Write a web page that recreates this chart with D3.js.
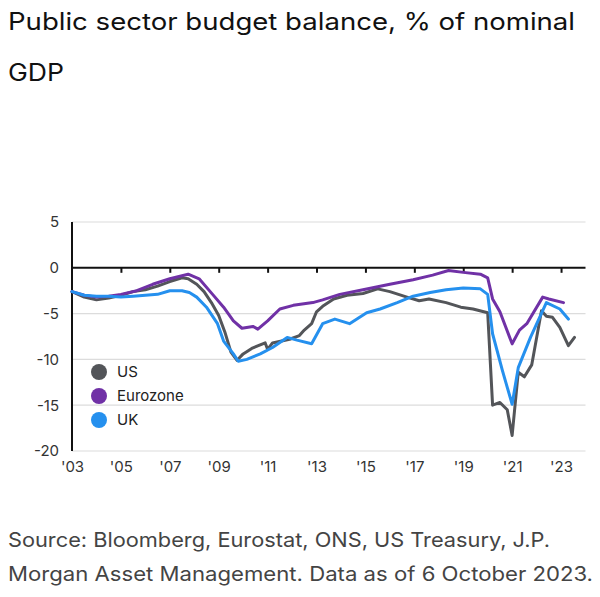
<!DOCTYPE html>
<html>
<head>
<meta charset="utf-8">
<script src="https://cdn.jsdelivr.net/npm/d3@7"></script>
<style>
  html, body { margin: 0; padding: 0; background: #fff; }
  svg { display: block; }
</style>
</head>
<body>
<svg id="chart" width="600" height="597"></svg>
<script>
// ---- Data ----
const seriesNames = ["US", "Eurozone", "UK"];
const seriesColors = ["#535559", "#7031a6", "#2590ee"];

const usDates = [2003.0,2003.5,2004.0,2004.5,2005.0,2005.5,2006.0,2006.5,2007.0,2007.5,2007.75,2008.1,2008.4,2008.7,2009.0,2009.25,2009.5,2009.75,2010.0,2010.35,2010.9,2011.0,2011.2,2011.9,2012.3,2012.5,2012.8,2013.0,2013.25,2013.7,2014.25,2014.9,2015.5,2016.0,2016.7,2017.2,2017.6,2018.3,2018.9,2019.4,2020.0,2020.2,2020.5,2020.8,2021.0,2021.25,2021.5,2021.8,2022.2,2022.4,2022.65,2022.95,2023.3,2023.55];
const usValues = [-2.6,-3.2,-3.5,-3.3,-3.0,-2.6,-2.4,-2.0,-1.5,-1.1,-1.2,-1.8,-2.6,-3.8,-5.2,-7.0,-9.2,-10.1,-9.4,-8.8,-8.2,-8.9,-8.2,-7.8,-7.4,-6.8,-6.1,-4.8,-4.2,-3.4,-3.0,-2.8,-2.3,-2.6,-3.2,-3.6,-3.4,-3.8,-4.3,-4.5,-4.9,-15.0,-14.7,-15.5,-18.3,-11.4,-11.9,-10.6,-4.7,-5.3,-5.4,-6.5,-8.5,-7.6];

const ezDates = [2003.0,2003.5,2004.0,2004.5,2005.0,2005.65,2006.3,2007.0,2007.75,2008.2,2008.75,2009.2,2009.6,2009.95,2010.4,2010.6,2011.0,2011.5,2012.05,2012.85,2013.25,2013.95,2014.9,2016.0,2016.95,2017.75,2018.4,2019.0,2019.7,2020.0,2020.2,2020.5,2021.0,2021.3,2021.6,2022.25,2022.5,2023.1];
const ezValues = [-2.6,-3.0,-3.2,-3.1,-2.9,-2.5,-1.8,-1.2,-0.7,-1.2,-2.9,-4.3,-5.8,-6.6,-6.4,-6.7,-5.8,-4.5,-4.1,-3.8,-3.5,-2.9,-2.4,-1.8,-1.3,-0.8,-0.3,-0.5,-0.7,-1.1,-3.4,-4.8,-8.3,-6.8,-6.1,-3.2,-3.4,-3.8];

const ukDates = [2003.0,2003.5,2004.0,2004.5,2005.0,2005.5,2006.0,2006.5,2007.0,2007.5,2007.8,2008.1,2008.5,2008.95,2009.2,2009.6,2009.8,2010.15,2010.7,2011.2,2011.8,2012.2,2012.8,2013.25,2013.75,2014.35,2015.05,2015.6,2016.3,2016.95,2017.65,2018.3,2019.0,2019.7,2020.0,2020.2,2020.6,2021.0,2021.25,2021.75,2022.4,2022.95,2023.3];
const ukValues = [-2.6,-3.0,-3.1,-3.1,-3.2,-3.1,-3.0,-2.9,-2.5,-2.5,-2.7,-3.2,-4.3,-6.1,-8.0,-9.4,-10.2,-10.0,-9.4,-8.7,-7.6,-7.9,-8.3,-6.1,-5.6,-6.1,-4.9,-4.5,-3.8,-3.1,-2.7,-2.4,-2.2,-2.3,-2.9,-7.2,-11.2,-14.9,-10.9,-7.6,-3.8,-4.5,-5.6];

const yTicks = [5, 0, -5, -10, -15, -20];
const xTickYears = [2003,2005,2007,2009,2011,2013,2015,2017,2019,2021,2023];
const xTickLabels = ["'03","'05","'07","'09","'11","'13","'15","'17","'19","'21","'23"];

const titleLines = ["Public sector budget balance, % of nominal", "GDP"];
const sourceLines = ["Source: Bloomberg, Eurostat, ONS, US Treasury, J.P.", "Morgan Asset Management. Data as of 6 October 2023."];

// ---- Drawing ----
const FONT = "Inter, 'Noto Sans', sans-serif";
const svg = d3.select("#chart");

const x = d3.scaleLinear().domain([2003, 2024]).range([72, 585.5]);
const y = d3.scaleLinear().domain([-20, 5]).range([451, 222]);

// title
const titleWidths = [567, 56];
svg.selectAll("text.title").data(titleLines).enter().append("text")
  .attr("class", "title")
  .attr("x", 8).attr("y", (d, i) => 29.5 + i * 51)
  .attr("font-family", FONT).attr("font-size", 24)
  .attr("fill", "#111")
  .attr("textLength", (d, i) => titleWidths[i])
  .attr("lengthAdjust", "spacingAndGlyphs")
  .text(d => d);

// gridlines
svg.append("g").selectAll("line").data(yTicks.filter(v => v !== 0)).enter().append("line")
  .attr("x1", x(2003)).attr("x2", x(2024))
  .attr("y1", d => y(d)).attr("y2", d => y(d))
  .attr("stroke", "#dcdcdc").attr("stroke-width", 1.2);

// y axis labels
const yAxis = d3.axisLeft(y).tickValues(yTicks).tickSize(0).tickPadding(13).tickFormat(d3.format("d"));
const gy = svg.append("g").attr("transform", `translate(${x(2003)},0)`).call(yAxis);
gy.select(".domain").remove();
gy.selectAll("text").attr("font-family", FONT).attr("font-size", 15).attr("fill", "#333")
  .text(d => d < 0 ? "-" + Math.abs(d) : d);

// y axis line
svg.append("line")
  .attr("x1", x(2003)).attr("x2", x(2003))
  .attr("y1", y(5)).attr("y2", y(-20))
  .attr("stroke", "#111").attr("stroke-width", 2);

// zero line with ticks
const xAxis = d3.axisBottom(x).tickValues(xTickYears.slice(1)).tickSize(5).tickFormat("");
const gx = svg.append("g").attr("transform", `translate(0,${y(0)})`).call(xAxis);
gx.select(".domain").attr("stroke", "#111").attr("stroke-width", 2).attr("d", `M${x(2003)},0H${x(2024)}`);
gx.selectAll(".tick line").attr("stroke", "#111").attr("stroke-width", 2);

// x labels at bottom
const xLab = d3.axisBottom(x).tickValues(xTickYears).tickSize(0).tickPadding(10)
  .tickFormat((d, i) => xTickLabels[i]);
const gxl = svg.append("g").attr("transform", `translate(0,${y(-20)})`).call(xLab);
gxl.select(".domain").remove();
gxl.selectAll("text").attr("font-family", FONT).attr("font-size", 15).attr("fill", "#333");

// lines
const line = d3.line().x(d => x(d[0])).y(d => y(d[1])).curve(d3.curveLinear);
const series = [
  d3.zip(usDates, usValues),
  d3.zip(ezDates, ezValues),
  d3.zip(ukDates, ukValues)
];
svg.append("g").selectAll("path").data(series).enter().append("path")
  .attr("d", line)
  .attr("fill", "none")
  .attr("stroke", (d, i) => seriesColors[i])
  .attr("stroke-width", 3)
  .attr("stroke-linejoin", "round")
  .attr("stroke-linecap", "round");

// legend
const lg = svg.append("g");
seriesNames.forEach((name, i) => {
  lg.append("circle").attr("cx", 99).attr("cy", 372 + i * 24).attr("r", 8).attr("fill", seriesColors[i]);
  lg.append("text").attr("x", 117).attr("y", 372 + i * 24).attr("dy", "0.35em")
    .attr("font-family", FONT).attr("font-size", 15).attr("fill", "#222").text(name);
});

// source
const sourceWidths = [542, 585];
svg.selectAll("text.source").data(sourceLines).enter().append("text")
  .attr("class", "source")
  .attr("x", 8).attr("y", (d, i) => 547 + i * 34)
  .attr("font-family", FONT).attr("font-size", 20)
  .attr("fill", "#444")
  .attr("textLength", (d, i) => sourceWidths[i])
  .attr("lengthAdjust", "spacingAndGlyphs")
  .text(d => d);
</script>
</body>
</html>
